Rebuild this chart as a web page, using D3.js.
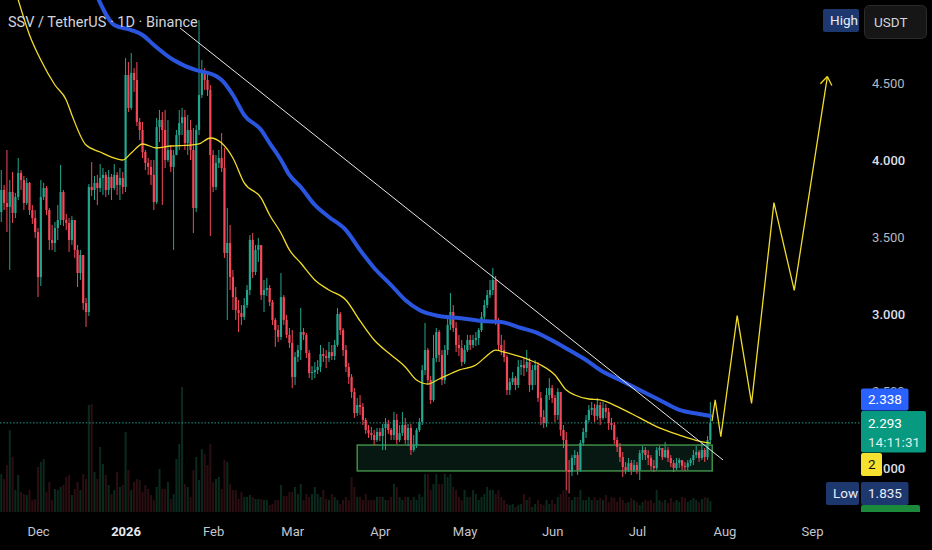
<!DOCTYPE html>
<html>
<head>
<meta charset="utf-8">
<script src="https://cdn.jsdelivr.net/npm/d3@7"></script>
<style>
  html, body { margin: 0; padding: 0; background: #000; }
  svg { display: block; font-family: Roboto, "Noto Sans", sans-serif; }
</style>
</head>
<body>
<svg id="chart" width="932" height="550"></svg>
<script>
// daily candles, SSV / USDT, first one on Nov 18 2025 (open of each = previous close)
const firstDay = "2025-11-18";
const firstOpen = 3.662;

const closes = [
  3.805, 3.721, 3.695, 3.792, 3.656, 3.760, 3.916, 3.870, 3.721, 3.851,
  3.675, 3.623, 3.532, 3.240, 3.760, 3.818, 3.675, 3.481, 3.461, 3.558,
  3.610, 3.792, 3.610, 3.591, 3.481, 3.610, 3.416, 3.266, 3.383, 3.071,
  3.013, 3.825, 3.805, 3.851, 3.818, 3.883, 3.903, 3.805, 3.890, 3.818,
  3.903, 3.838, 3.883, 3.825, 4.552, 4.338, 4.565, 4.519, 4.247, 4.195,
  4.052, 3.981, 3.955, 3.903, 3.727, 4.214, 4.260, 4.195, 4.000, 4.065,
  3.955, 4.032, 4.162, 4.240, 4.279, 4.110, 4.195, 4.065, 3.688, 4.195,
  4.422, 4.571, 4.519, 4.455, 4.032, 3.825, 3.981, 4.013, 3.948, 3.396,
  3.461, 3.240, 3.110, 3.026, 3.006, 2.981, 3.058, 3.156, 3.481, 3.273,
  3.416, 3.448, 3.123, 3.156, 3.169, 3.078, 2.961, 2.896, 2.851, 3.110,
  2.961, 2.864, 2.812, 2.591, 2.721, 2.766, 2.883, 2.864, 2.747, 2.617,
  2.623, 2.636, 2.656, 2.740, 2.727, 2.714, 2.753, 2.727, 2.799, 3.000,
  2.896, 2.766, 2.656, 2.591, 2.494, 2.357, 2.409, 2.396, 2.312, 2.247,
  2.227, 2.214, 2.182, 2.234, 2.208, 2.260, 2.286, 2.247, 2.214, 2.312,
  2.182, 2.227, 2.279, 2.182, 2.260, 2.117, 2.149, 2.247, 2.299, 2.636,
  2.766, 2.571, 2.442, 2.714, 2.883, 2.734, 2.571, 2.766, 2.929, 3.013,
  2.909, 2.799, 2.779, 2.688, 2.766, 2.831, 2.799, 2.831, 2.844, 2.896,
  2.981, 3.058, 3.123, 3.156, 3.221, 2.961, 2.799, 2.766, 2.721, 2.506,
  2.558, 2.584, 2.539, 2.656, 2.669, 2.649, 2.688, 2.539, 2.636, 2.669,
  2.455, 2.331, 2.292, 2.474, 2.519, 2.455, 2.344, 2.494, 2.247, 2.182,
  1.987, 1.974, 2.065, 2.084, 1.987, 2.162, 2.234, 2.312, 2.377, 2.390,
  2.338, 2.409, 2.325, 2.390, 2.364, 2.292, 2.279, 2.182, 2.136, 2.071,
  2.006, 1.987, 2.032, 1.987, 2.019, 1.987, 2.097, 2.117, 2.084, 2.065,
  2.013, 2.000, 2.117, 2.130, 2.071, 2.117, 2.065, 2.032, 2.000, 2.032,
  2.052, 2.013, 2.006, 2.032, 2.052, 2.084, 2.104, 2.065, 2.117, 2.071,
  2.182, 2.293
];

const highs = [
  3.935, 3.838, 4.065, 3.870, 3.922, 3.786, 4.013, 3.935, 3.896, 3.883,
  3.857, 3.708, 3.675, 3.558, 3.870, 3.851, 3.831, 3.688, 3.578, 3.597,
  3.708, 3.968, 3.805, 3.649, 3.623, 3.636, 3.610, 3.448, 3.416, 3.383,
  3.104, 3.844, 3.987, 3.896, 3.903, 3.974, 3.948, 3.922, 3.935, 3.909,
  3.974, 3.922, 3.948, 3.922, 4.662, 4.636, 4.695, 4.597, 4.636, 4.273,
  4.247, 4.065, 4.013, 4.000, 4.000, 4.273, 4.325, 4.312, 4.325, 4.260,
  4.097, 4.065, 4.195, 4.325, 4.338, 4.325, 4.292, 4.260, 4.208, 4.227,
  4.909, 4.649, 4.597, 4.571, 4.487, 4.065, 4.032, 4.065, 4.175, 4.078,
  3.688, 3.578, 3.286, 3.175, 3.091, 3.058, 3.104, 3.188, 3.513, 3.526,
  3.448, 3.494, 3.448, 3.221, 3.234, 3.188, 3.091, 2.974, 2.929, 3.266,
  3.123, 2.994, 2.909, 2.896, 2.753, 2.799, 3.039, 2.909, 2.877, 2.766,
  2.662, 2.688, 2.701, 2.799, 2.779, 2.766, 2.818, 2.799, 2.831, 3.039,
  3.013, 2.909, 2.799, 2.682, 2.610, 2.519, 2.455, 2.474, 2.422, 2.325,
  2.279, 2.266, 2.247, 2.260, 2.260, 2.286, 2.325, 2.312, 2.260, 2.364,
  2.351, 2.279, 2.364, 2.325, 2.286, 2.286, 2.214, 2.260, 2.325, 2.669,
  2.942, 2.779, 2.597, 2.864, 2.909, 2.896, 2.766, 2.799, 2.974, 3.136,
  3.058, 2.948, 2.864, 2.831, 2.799, 2.864, 2.864, 2.864, 2.883, 2.909,
  3.013, 3.091, 3.156, 3.221, 3.299, 3.247, 2.974, 2.864, 2.831, 2.734,
  2.584, 2.623, 2.597, 2.701, 2.701, 2.714, 2.766, 2.714, 2.669, 2.701,
  2.688, 2.494, 2.377, 2.519, 2.584, 2.539, 2.474, 2.519, 2.494, 2.279,
  2.234, 2.052, 2.084, 2.117, 2.104, 2.182, 2.260, 2.344, 2.409, 2.429,
  2.416, 2.455, 2.429, 2.429, 2.416, 2.390, 2.325, 2.299, 2.201, 2.162,
  2.104, 2.039, 2.065, 2.052, 2.052, 2.039, 2.117, 2.143, 2.136, 2.117,
  2.084, 2.052, 2.136, 2.143, 2.130, 2.169, 2.136, 2.084, 2.052, 2.065,
  2.065, 2.052, 2.039, 2.052, 2.065, 2.117, 2.143, 2.117, 2.162, 2.130,
  2.208, 2.429
];

const lows = [
  3.597, 3.675, 3.532, 3.286, 3.591, 3.623, 3.740, 3.805, 3.675, 3.708,
  3.643, 3.584, 3.494, 3.110, 3.182, 3.740, 3.643, 3.416, 3.416, 3.403,
  3.481, 3.578, 3.571, 3.545, 3.403, 3.448, 3.364, 3.175, 3.221, 3.026,
  2.916, 2.987, 3.766, 3.740, 3.708, 3.792, 3.773, 3.760, 3.773, 3.740,
  3.805, 3.773, 3.740, 3.779, 3.792, 4.312, 4.325, 4.442, 4.221, 4.130,
  4.013, 3.935, 3.903, 3.838, 3.675, 3.714, 4.117, 3.708, 3.948, 3.987,
  3.922, 3.416, 4.032, 4.065, 4.162, 4.065, 4.032, 4.000, 3.526, 3.662,
  4.162, 4.403, 4.455, 4.416, 3.506, 3.792, 3.805, 3.948, 3.922, 3.364,
  2.961, 3.156, 3.026, 2.961, 2.883, 2.929, 2.961, 3.039, 3.123, 3.234,
  3.253, 3.338, 3.091, 3.013, 3.117, 3.052, 2.929, 2.786, 2.818, 2.831,
  2.929, 2.844, 2.779, 2.519, 2.539, 2.688, 2.701, 2.831, 2.714, 2.584,
  2.571, 2.584, 2.610, 2.623, 2.688, 2.649, 2.688, 2.701, 2.701, 2.786,
  2.864, 2.727, 2.623, 2.545, 2.455, 2.325, 2.338, 2.344, 2.279, 2.221,
  2.195, 2.182, 2.149, 2.169, 2.175, 2.117, 2.117, 2.221, 2.182, 2.182,
  2.156, 2.169, 2.208, 2.156, 2.143, 2.084, 2.104, 2.130, 2.234, 2.279,
  2.604, 2.545, 2.416, 2.429, 2.688, 2.688, 2.539, 2.545, 2.734, 2.896,
  2.883, 2.753, 2.727, 2.662, 2.675, 2.753, 2.766, 2.779, 2.792, 2.799,
  2.883, 2.961, 3.039, 3.104, 3.123, 2.929, 2.766, 2.734, 2.688, 2.474,
  2.474, 2.539, 2.506, 2.519, 2.604, 2.597, 2.623, 2.494, 2.506, 2.539,
  2.429, 2.279, 2.260, 2.266, 2.442, 2.422, 2.299, 2.312, 2.208, 2.130,
  1.857, 1.835, 1.948, 2.019, 1.955, 1.974, 2.143, 2.195, 2.299, 2.344,
  2.299, 2.312, 2.279, 2.312, 2.325, 2.247, 2.247, 2.156, 2.104, 2.039,
  1.942, 1.961, 1.974, 1.955, 1.974, 1.961, 1.922, 2.052, 2.052, 2.019,
  1.987, 1.974, 1.987, 2.078, 2.052, 2.065, 2.039, 2.006, 1.974, 1.987,
  2.000, 1.987, 1.981, 1.987, 2.013, 2.019, 2.065, 2.039, 2.052, 2.039,
  2.052, 2.156
];

// volume in thousands
const volumes = [
  38, 33, 47, 82, 55, 22, 37, 20, 18, 17, 22, 12, 13, 45, 50, 53, 20, 30, 12, 23,
  22, 25, 27, 35, 37, 17, 23, 30, 22, 38, 33, 107, 108, 40, 33, 65, 48, 37, 27, 18,
  22, 40, 25, 27, 80, 42, 22, 30, 33, 32, 20, 27, 23, 17, 12, 25, 43, 23, 23, 30,
  13, 18, 53, 68, 125, 28, 25, 15, 42, 55, 32, 63, 58, 47, 68, 30, 33, 35, 23, 52,
  50, 28, 22, 22, 13, 20, 15, 15, 17, 15, 13, 13, 13, 12, 12, 7, 8, 12, 12, 27,
  16, 16, 20, 20, 25, 18,
  28, 12, 18, 15, 18, 25, 18, 15, 22, 13, 12, 18, 15, 12, 8, 12, 15, 12, 35, 25,
  15, 15, 12, 18, 12, 12, 12, 15, 15, 15, 12, 12, 15, 28, 25, 15, 12, 15, 15, 12,
  15, 12, 18, 15, 38, 38, 22, 28, 38, 28, 28, 38, 35, 38, 25, 22, 15, 12, 22, 15,
  15, 22, 18, 12, 15, 18, 25, 22, 22, 18, 22, 15, 12, 8, 7, 8, 5, 7, 8, 18,
  12, 15, 5, 8, 12, 8, 7, 12, 8, 12, 8, 15, 18, 22, 22, 15, 12, 15, 15, 22,
  12, 12, 15, 12, 15, 12,
  14, 12, 17, 10, 15, 14, 10, 15, 12, 9, 10, 14, 12, 10, 7, 10, 12, 11, 12, 9,
  22, 12, 10, 12, 9, 14, 10, 12, 10, 15, 14, 10, 12, 14, 12, 10, 13, 15, 14, 10.931
];

// slow moving average (blue)
const blueDates = ["2025-12-22", "2025-12-28", "2026-01-03", "2026-01-07", "2026-01-11", "2026-01-18",
  "2026-01-26", "2026-01-29", "2026-02-02", "2026-02-04", "2026-02-08", "2026-02-12", "2026-02-18",
  "2026-02-21", "2026-02-25", "2026-02-28", "2026-03-04", "2026-03-09", "2026-03-14", "2026-03-20",
  "2026-03-25", "2026-03-30", "2026-04-05", "2026-04-10", "2026-04-15", "2026-04-22", "2026-04-29",
  "2026-05-07", "2026-05-14", "2026-05-21", "2026-05-26", "2026-06-02", "2026-06-07", "2026-06-13",
  "2026-06-18", "2026-06-25", "2026-07-02", "2026-07-09", "2026-07-16", "2026-07-23", "2026-07-27"];
const blueValues = [5.06, 4.877, 4.844, 4.812, 4.747, 4.649, 4.584, 4.571, 4.545, 4.519, 4.422, 4.292,
  4.195, 4.110, 4.000, 3.903, 3.825, 3.708, 3.630, 3.545, 3.416, 3.299, 3.188, 3.091, 3.026, 2.987,
  2.974, 2.955, 2.948, 2.909, 2.883, 2.818, 2.766, 2.701, 2.636, 2.571, 2.506, 2.442, 2.377, 2.351, 2.338];

// faster moving average (yellow)
const yellowDates = ["2025-11-24", "2025-11-28", "2025-12-02", "2025-12-07", "2025-12-11", "2025-12-13",
  "2025-12-18", "2025-12-23", "2025-12-27", "2025-12-31", "2026-01-03", "2026-01-07", "2026-01-12",
  "2026-01-17", "2026-01-24", "2026-01-27", "2026-01-31", "2026-02-04", "2026-02-08", "2026-02-12",
  "2026-02-18", "2026-02-21", "2026-02-25", "2026-02-28", "2026-03-04", "2026-03-09", "2026-03-14",
  "2026-03-20", "2026-03-25", "2026-03-30", "2026-04-05", "2026-04-10", "2026-04-14", "2026-04-18",
  "2026-04-22", "2026-04-29", "2026-05-05", "2026-05-08", "2026-05-12", "2026-05-15", "2026-05-21",
  "2026-05-24", "2026-05-28", "2026-06-02", "2026-06-06", "2026-06-09", "2026-06-14", "2026-06-18",
  "2026-06-25", "2026-07-02", "2026-07-09", "2026-07-16", "2026-07-23", "2026-07-27"];
const yellowValues = [5.04, 4.812, 4.649, 4.487, 4.390, 4.292, 4.097, 4.052, 4.019, 4.000, 4.045,
  4.104, 4.078, 4.091, 4.097, 4.104, 4.143, 4.110, 4.013, 3.851, 3.753, 3.643, 3.526, 3.416, 3.331,
  3.221, 3.156, 3.091, 2.955, 2.831, 2.734, 2.656, 2.571, 2.545, 2.578, 2.636, 2.669, 2.714, 2.766,
  2.753, 2.721, 2.701, 2.669, 2.604, 2.506, 2.474, 2.448, 2.442, 2.390, 2.325, 2.260, 2.214, 2.175, 2.162];

// drawings
const trendDates = ["2026-01-20T07:00Z", "2026-07-31T12:00Z"];
const trendValues = [4.857, 2.052];
const pathDates = ["2026-07-27T14:00Z", "2026-07-28T17:00Z", "2026-07-30T17:00Z", "2026-08-05T12:00Z",
  "2026-08-10T14:00Z", "2026-08-18T12:00Z", "2026-08-25T17:00Z", "2026-09-06T10:00Z"];
const pathValues = [2.305, 2.442, 2.203, 2.989, 2.420, 3.723, 3.153, 4.542];
const boxDates = ["2026-03-24", "2026-07-27T16:00Z"];
const boxValues = [2.149, 1.981];

const priceTicks = [2.0, 2.5, 3.0, 3.5, 4.0, 4.5];
const lastPrice = 2.293, blueLast = 2.338, lowPrice = 1.835, highPrice = 4.909;

const W = 932, H = 550, plotW = 862, plotH = 512;
const up = "#22a68f", down = "#f4485a";

const svg = d3.select("#chart");
svg.append("rect").attr("width", W).attr("height", H).attr("fill", "#000");

const x = d3.scaleUtc()
  .domain([new Date("2025-11-17T13:10Z"), new Date("2026-09-18T16:20Z")])
  .range([0, plotW]);
const y = d3.scaleLinear().domain([1.6948, 5.039]).range([515, 0]);
const yVol = d3.scaleLinear().domain([0, 122]).range([plotH, 390]);

svg.append("clipPath").attr("id", "plot")
  .append("rect").attr("width", plotW).attr("height", plotH);

const candles = closes.map((c, i) => ({
  date: d3.utcDay.offset(new Date(firstDay), i),
  open: i === 0 ? firstOpen : closes[i - 1],
  close: c, high: highs[i], low: lows[i], volume: volumes[i]
}));

const g = svg.append("g").attr("clip-path", "url(#plot)");

// volume
g.selectAll(".vol").data(candles).enter().append("rect")
  .attr("x", d => x(d.date) - 1)
  .attr("width", 2)
  .attr("y", d => yVol(d.volume))
  .attr("height", d => plotH - yVol(d.volume))
  .attr("fill", d => d.close >= d.open ? "#0a2a1e" : "#2c0e12");

// last price dotted line
g.append("line")
  .attr("x1", 0).attr("x2", plotW)
  .attr("y1", y(lastPrice)).attr("y2", y(lastPrice))
  .attr("stroke", "#1f9d86").attr("stroke-width", 1)
  .attr("stroke-dasharray", "1.5,1.8");

// range box
g.append("rect")
  .attr("x", x(new Date(boxDates[0])))
  .attr("y", y(boxValues[0]))
  .attr("width", x(new Date(boxDates[1])) - x(new Date(boxDates[0])))
  .attr("height", y(boxValues[1]) - y(boxValues[0]))
  .attr("fill", "rgba(40,170,120,0.14)")
  .attr("stroke", "#3f8d47").attr("stroke-width", 1.5);

// candles
g.selectAll(".wick").data(candles).enter().append("line")
  .attr("x1", d => x(d.date)).attr("x2", d => x(d.date))
  .attr("y1", d => y(d.high)).attr("y2", d => y(d.low))
  .attr("stroke", d => d.close >= d.open ? up : down)
  .attr("stroke-width", 1);

g.selectAll(".body").data(candles).enter().append("rect")
  .attr("x", d => x(d.date) - 1.1)
  .attr("width", 2.2)
  .attr("y", d => y(Math.max(d.open, d.close)))
  .attr("height", d => Math.max(1, Math.abs(y(d.open) - y(d.close))))
  .attr("fill", d => d.close >= d.open ? up : down);

// moving averages
const maLine = d3.line()
  .x(d => x(new Date(d[0])))
  .y(d => y(d[1]))
  .curve(d3.curveMonotoneX);

g.append("path")
  .datum(d3.zip(yellowDates, yellowValues))
  .attr("d", maLine)
  .attr("fill", "none").attr("stroke", "#f2dc2a").attr("stroke-width", 1.3);

g.append("path")
  .datum(d3.zip(blueDates, blueValues))
  .attr("d", maLine)
  .attr("fill", "none").attr("stroke", "#2a55de").attr("stroke-width", 4)
  .attr("stroke-linecap", "round");

// trend line
g.append("line")
  .attr("x1", x(new Date(trendDates[0]))).attr("y1", y(trendValues[0]))
  .attr("x2", x(new Date(trendDates[1]))).attr("y2", y(trendValues[1]))
  .attr("stroke", "#e8e8e8").attr("stroke-width", 1);

// projected path with arrow head
const pathPts = d3.zip(pathDates, pathValues).map(d => [x(new Date(d[0])), y(d[1])]);
svg.append("path")
  .attr("d", d3.line()(pathPts))
  .attr("fill", "none").attr("stroke", "#f2dc2a").attr("stroke-width", 1.3)
  .attr("stroke-linejoin", "miter");

const tip = pathPts[pathPts.length - 1];
const prev = pathPts[pathPts.length - 2];
const ang = Math.atan2(prev[1] - tip[1], prev[0] - tip[0]);
[-0.62, 0.62].forEach(a => {
  svg.append("line")
    .attr("x1", tip[0]).attr("y1", tip[1])
    .attr("x2", tip[0] + 10 * Math.cos(ang + a))
    .attr("y2", tip[1] + 10 * Math.sin(ang + a))
    .attr("stroke", "#f2dc2a").attr("stroke-width", 1.3);
});

// price scale
const yAxis = svg.append("g")
  .attr("transform", `translate(${plotW},0)`)
  .call(d3.axisRight(y).tickValues(priceTicks).tickSize(0).tickPadding(10).tickFormat(d3.format(".3f")));
yAxis.select(".domain").remove();
yAxis.selectAll("text")
  .style("font-size", "13px")
  .style("font-family", "Roboto, sans-serif")
  .attr("fill", d => Number.isInteger(d) ? "#dcdee4" : "#b4b7bf")
  .style("font-weight", d => Number.isInteger(d) ? "500" : "400");

// title
svg.append("text")
  .attr("x", 8).attr("y", 27)
  .attr("fill", "#d1d4dc")
  .style("font-size", "14.5px")
  .text("SSV / TetherUS · 1D · Binance");

// price scale labels
function tag(x0, y0, w, h, fill, lines, textFill) {
  svg.append("rect").attr("x", x0).attr("y", y0).attr("width", w).attr("height", h)
    .attr("rx", 2).attr("fill", fill);
  lines.forEach((t, i) => {
    svg.append("text")
      .attr("x", x0 + 7).attr("y", y0 + 16 + i * 19)
      .attr("fill", textFill)
      .style("font-size", "13.5px")
      .text(t);
  });
}

const yl = y(lastPrice);
tag(plotW - 1, yl - 12, 65, 41.5, "#089981", [], "#fff");
svg.append("text").attr("x", plotW + 6).attr("y", yl + 5).attr("fill", "#fff")
  .style("font-size", "13.5px").text(d3.format(".3f")(lastPrice));
svg.append("text").attr("x", plotW + 6).attr("y", yl + 24).attr("fill", "#d8efea")
  .style("font-size", "13.5px").text("14:11:31");

tag(plotW - 1, yl - 34.5, 47.5, 22, "#2962ff", [d3.format(".3f")(blueLast)], "#fff");
tag(plotW - 1, yl + 30, 21, 23, "#f5e12e", ["2"], "#111");

const ylow = y(lowPrice);
tag(826, ylow - 11.5, 33, 23, "#1d386e", ["Low"], "#e8ecf5");
tag(plotW - 1, ylow - 11.5, 47.5, 23, "#1d386e", [d3.format(".3f")(lowPrice)], "#e8ecf5");

// volume value label, mostly hidden under the time axis strip
tag(plotW - 1, ylow + 11.5, 59, 20, "#1b8a3a", ["10.931 K"], "#e8f5ea");

// time axis strip drawn over the lower edge
svg.append("rect").attr("x", 0).attr("y", plotH).attr("width", W).attr("height", H - plotH)
  .attr("fill", "#000");

const xAxis = svg.append("g")
  .attr("transform", `translate(0,515)`)
  .call(d3.axisBottom(x)
    .ticks(d3.utcMonth.every(1))
    .tickSize(0)
    .tickPadding(12)
    .tickFormat(d => d.getUTCMonth() === 0 ? d.getUTCFullYear() : d3.utcFormat("%b")(d)));
xAxis.select(".domain").remove();
xAxis.selectAll("text")
  .style("font-size", "13px")
  .style("font-family", "Roboto, sans-serif")
  .style("font-weight", d => d.getUTCMonth() === 0 ? "700" : "400")
  .attr("fill", d => d.getUTCMonth() === 0 ? "#e6e8ee" : "#c3c6ce");

const yh = y(highPrice);
tag(823, yh - 11, 36, 23, "#1d386e", ["High"], "#e8ecf5");

// currency button
svg.append("rect").attr("x", 864.5).attr("y", 5.5).attr("width", 62).attr("height", 33)
  .attr("rx", 5).attr("fill", "#161616").attr("stroke", "#2b2b2b");
svg.append("text").attr("x", 874).attr("y", 27).attr("fill", "#d1d4dc")
  .style("font-size", "13.5px").text("USDT");
</script>
</body>
</html>
